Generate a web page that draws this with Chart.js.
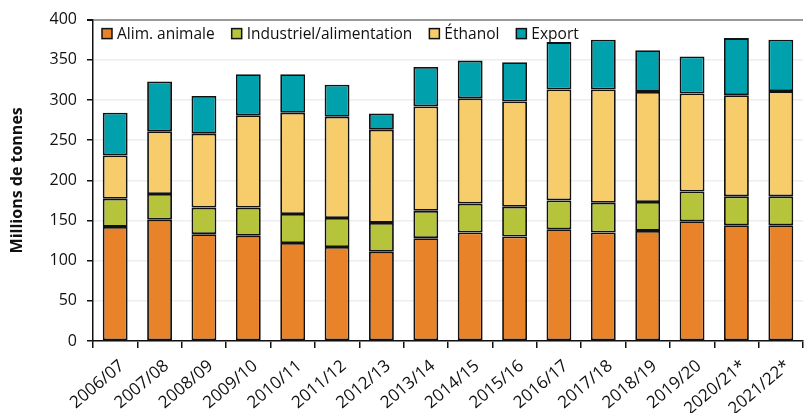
<!DOCTYPE html>
<html>
<head>
<meta charset="utf-8">
<script src="https://cdn.jsdelivr.net/npm/chart.js@4/dist/chart.umd.min.js"></script>
<style>
  html, body { margin: 0; padding: 0; background: #fff; }
  #wrap { width: 804px; height: 413px; }
</style>
</head>
<body>
<div id="wrap"><canvas id="barchart"></canvas></div>
<script>
// Utilisation du maïs, millions de tonnes
var campagnes = ["2006/07", "2007/08", "2008/09", "2009/10", "2010/11", "2011/12", "2012/13", "2013/14",
  "2014/15", "2015/16", "2016/17", "2017/18", "2018/19", "2019/20", "2020/21*", "2021/22*"];
var alimAnimale = [142, 151, 133, 131, 122, 117, 111, 128, 135, 130, 139, 135, 137, 149, 144, 144];
var industriel = [35, 32, 33, 35, 36, 36, 36, 34, 36, 37, 36, 37, 36, 37, 36, 36];
var ethanol = [54, 78, 92, 115, 126, 126, 116, 130, 131, 131, 138, 141, 137, 122, 126, 131];
var exportations = [53, 62, 47, 51, 48, 40, 20, 49, 47, 49, 59, 62, 52, 46, 71, 64];
var yTicks = [0, 50, 100, 150, 200, 250, 300, 350, 400];

var font = "'Open Sans', 'Noto Sans', sans-serif";
Chart.defaults.font.family = font;
Chart.defaults.color = "#111";

function serie(label, data, color) {
  return {
    label: label,
    data: data,
    backgroundColor: color,
    borderColor: "#111",
    borderWidth: 1.8,
    borderSkipped: false,
    categoryPercentage: 1,
    barPercentage: 0.56
  };
}

// legend drawn in one row inside the plot area, top left
var legendInside = {
  id: 'legendInside',
  afterDraw: function (chart) {
    var ctx = chart.ctx;
    var area = chart.chartArea;
    var x = area.left + 9;
    var y = area.top + 14;
    ctx.save();
    ctx.font = "15.5px " + font;
    ctx.textBaseline = 'middle';
    chart.data.datasets.forEach(function (ds) {
      ctx.fillStyle = ds.backgroundColor;
      ctx.fillRect(x, y - 5, 10, 10);
      ctx.lineWidth = 1.5;
      ctx.strokeStyle = "#111";
      ctx.strokeRect(x, y - 5, 10, 10);
      ctx.fillStyle = "#111";
      ctx.fillText(ds.label, x + 15, y + 1);
      x += 15 + ctx.measureText(ds.label).width + 17;
    });
    ctx.restore();
  }
};

var context = document.getElementById("barchart");
var barchart = new Chart(context, {
  type: 'bar',
  data: {
    labels: campagnes,
    datasets: [
      serie("Alim. animale", alimAnimale, "#E8832A"),
      serie("Industriel/alimentation", industriel, "#B6C43B"),
      serie("Éthanol", ethanol, "#F7CD6B"),
      serie("Export", exportations, "#00A0AC")
    ]
  },
  plugins: [legendInside],
  options: {
    responsive: true,
    maintainAspectRatio: false,
    animation: false,
    layout: { padding: { top: 13, right: 1, left: 0, bottom: 0 } },
    plugins: {
      tooltip: { enabled: false },
      legend: { display: false }
    },
    scales: {
      x: {
        stacked: true,
        afterFit: function (scale) { scale.height = 72; },
        grid: {
          drawOnChartArea: false,
          color: "#111",
          tickLength: 7,
          lineWidth: 1.5
        },
        border: { color: "#111", width: 1.5 },
        ticks: {
          minRotation: 40,
          maxRotation: 40,
          font: { size: 17 },
          color: "#111",
          padding: 8,
          labelOffset: 7
        }
      },
      y: {
        stacked: true,
        min: 0,
        max: 400,
        afterFit: function (scale) { scale.width = 93; },
        afterBuildTicks: function (axis) {
          axis.ticks = yTicks.map(function (v) { return { value: v }; });
        },
        grid: {
          color: function (c) { return c.tick && c.tick.value === 400 ? "#999" : "#eeeeee"; },
          lineWidth: function (c) { return c.tick && c.tick.value === 400 ? 2 : 1.5; },
          tickColor: "#111",
          tickLength: 6
        },
        border: { color: "#111", width: 1.5 },
        ticks: {
          font: { size: 16 },
          color: "#111",
          padding: 10
        },
        title: {
          display: true,
          text: "Millions de tonnes",
          font: { size: 16, weight: 'bold' },
          color: "#111",
          padding: { top: 8, bottom: 0 }
        }
      }
    }
  }
});
</script>
</body>
</html>
